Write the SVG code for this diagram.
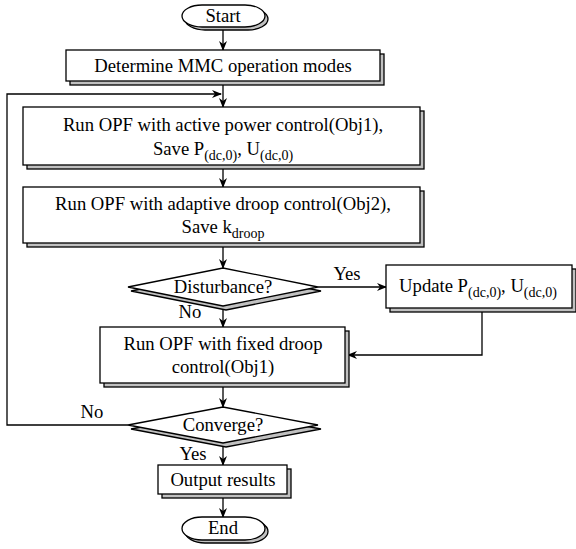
<svg xmlns="http://www.w3.org/2000/svg" width="576" height="549" viewBox="0 0 576 549">
<style>
text{font-family:"Liberation Serif","Times New Roman",serif;font-size:18.67px;fill:#000;text-anchor:middle}
.s{fill:#c0c0c0;stroke:#000;stroke-width:1.3}
.b{fill:#fff;stroke:#000;stroke-width:1.3}
.c{fill:none;stroke:#000;stroke-width:1.3}
.sub{font-size:14px}
</style>
<defs>
<marker id="ah" markerWidth="10" markerHeight="8" refX="9" refY="4" orient="auto" markerUnits="userSpaceOnUse">
<path d="M0,0 L10,4 L0,8 L3,4 Z" fill="#000"/>
</marker>
</defs>
<g id="connectors">
<line class="c" x1="223" y1="27" x2="223" y2="50" marker-end="url(#ah)"/>
<line class="c" x1="223" y1="81" x2="223" y2="107" marker-end="url(#ah)"/>
<polyline class="c" points="128,425 7,425 7,94 221,94" marker-end="url(#ah)"/>
<line class="c" x1="223" y1="165" x2="223" y2="187" marker-end="url(#ah)"/>
<line class="c" x1="223" y1="243" x2="223" y2="268" marker-end="url(#ah)"/>
<line class="c" x1="318" y1="287" x2="386" y2="287" marker-end="url(#ah)"/>
<polyline class="c" points="482,308 482,355 348,355" marker-end="url(#ah)"/>
<line class="c" x1="223" y1="306" x2="223" y2="327" marker-end="url(#ah)"/>
<line class="c" x1="223" y1="383" x2="223" y2="407" marker-end="url(#ah)"/>
<line class="c" x1="223" y1="443" x2="223" y2="465" marker-end="url(#ah)"/>
<line class="c" x1="223" y1="494" x2="223" y2="517" marker-end="url(#ah)"/>
<text x="347" y="280">Yes</text>
<text x="190" y="318">No</text>
<text x="92" y="418">No</text>
<text x="193" y="460">Yes</text>
</g>
<g id="start">
<rect class="s" x="185" y="8" width="83" height="22" rx="20" ry="11"/>
<rect class="b" x="182" y="5" width="83" height="22" rx="20" ry="11"/>
<text x="223" y="22">Start</text>
</g>
<g id="determine">
<rect class="s" x="70" y="54" width="314" height="31"/>
<rect class="b" x="66" y="50" width="314" height="31"/>
<text x="223" y="72">Determine MMC operation modes</text>
</g>
<g id="opf-active">
<rect class="s" x="27" y="111" width="397" height="58"/>
<rect class="b" x="23" y="107" width="397" height="58"/>
<text x="223" y="131">Run OPF with active power control(Obj1),</text>
<text x="223" y="155">Save P<tspan class="sub" dy="5">(dc,0)</tspan><tspan dy="-5">, U</tspan><tspan class="sub" dy="5">(dc,0)</tspan></text>
</g>
<g id="opf-adaptive">
<rect class="s" x="27" y="191" width="397" height="56"/>
<rect class="b" x="23" y="187" width="397" height="56"/>
<text x="223" y="210">Run OPF with adaptive droop control(Obj2),</text>
<text x="223" y="233">Save k<tspan class="sub" dy="5">droop</tspan></text>
</g>
<g id="disturbance">
<polygon class="s" points="131,291 226,272 321,291 226,310"/>
<polygon class="b" points="128,287 223,268 318,287 223,306"/>
<text x="223" y="293">Disturbance?</text>
</g>
<g id="update">
<rect class="s" x="390" y="269" width="186" height="43"/>
<rect class="b" x="386" y="265" width="186" height="43"/>
<text x="478" y="292">Update P<tspan class="sub" dy="5">(dc,0)</tspan><tspan dy="-5">, U</tspan><tspan class="sub" dy="5">(dc,0)</tspan></text>
</g>
<g id="opf-fixed">
<rect class="s" x="104" y="331" width="245" height="56"/>
<rect class="b" x="100" y="327" width="245" height="56"/>
<text x="223" y="350">Run OPF with fixed droop</text>
<text x="223" y="373">control(Obj1)</text>
</g>
<g id="converge">
<polygon class="s" points="131,429 226,411 321,429 226,447"/>
<polygon class="b" points="128,425 223,407 318,425 223,443"/>
<text x="223" y="431">Converge?</text>
</g>
<g id="output">
<rect class="s" x="162" y="469" width="129" height="29"/>
<rect class="b" x="158" y="465" width="129" height="29"/>
<text x="223" y="486">Output results</text>
</g>
<g id="end">
<rect class="s" x="185" y="520" width="83" height="23" rx="20" ry="11.5"/>
<rect class="b" x="182" y="517" width="83" height="23" rx="20" ry="11.5"/>
<text x="223" y="534">End</text>
</g>
</svg>
